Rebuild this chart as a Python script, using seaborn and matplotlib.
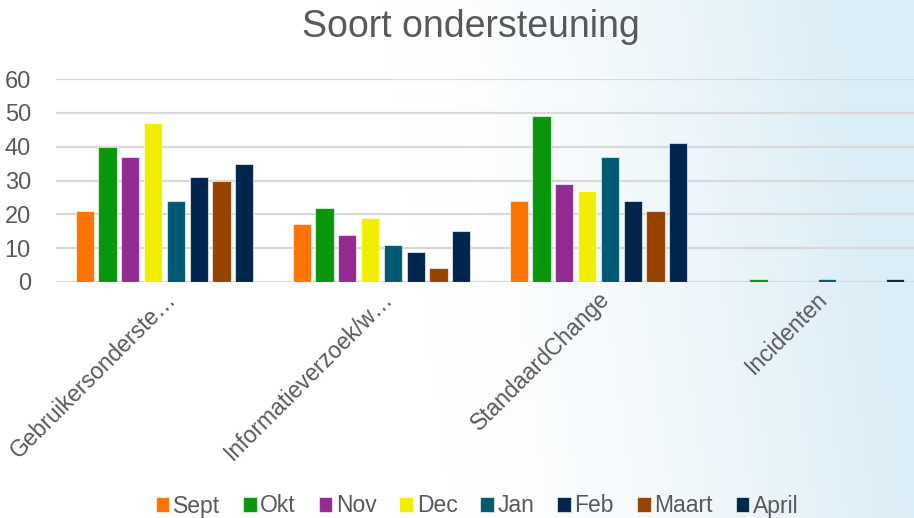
import numpy as np
import pandas as pd
import matplotlib
matplotlib.use("Agg")
import matplotlib.pyplot as plt
import seaborn as sns

# data
categories = ["Gebruikersonderste…", "Informatieverzoek/w…", "StandaardChange", "Incidenten"]
months = ["Sept", "Okt", "Nov", "Dec", "Jan", "Feb", "Maart", "April"]
sept = [21, 17, 24, 0]
okt = [40, 22, 49, 1]
nov = [37, 14, 29, 0]
dec = [47, 19, 27, 0]
jan = [24, 11, 37, 1]
feb = [31, 9, 24, 0]
maart = [30, 4, 21, 0]
april = [35, 15, 41, 1]
month_colors = ["#FF7300", "#0A960A", "#922B92", "#F2EE00",
                "#005A73", "#00264D", "#964400", "#00264D"]

series = [sept, okt, nov, dec, jan, feb, maart, april]
rows = []
for m, vals in zip(months, series):
    for c, v in zip(categories, vals):
        rows.append({"categorie": c, "maand": m, "aantal": v})
df = pd.DataFrame(rows)

sns.set_style("white")
plt.rcParams["font.family"] = ["Liberation Sans", "DejaVu Sans"]
text_col = "#595959"

fig = plt.figure(figsize=(9.14, 5.18), dpi=100)

# background gradient: white on the left, light blue towards the right
bg = fig.add_axes([0, 0, 1, 1], zorder=-10)
xx, yy = np.meshgrid(np.linspace(0, 1, 300), np.linspace(0, 1, 200))
t = np.clip((xx - 0.5 + 0.08 * (1 - yy)) / 0.5, 0, 1) ** 1.4
white = np.array([1.0, 1.0, 1.0])
blue = np.array([0.86, 0.93, 0.965])
img = white[None, None, :] * (1 - t[..., None]) + blue[None, None, :] * t[..., None]
bg.imshow(img, aspect="auto", origin="upper", extent=[0, 1, 0, 1])
bg.axis("off")

ax = fig.add_axes([56 / 914, 1 - 282 / 518, 868 / 914, 203 / 518])
ax.patch.set_alpha(0)
sns.barplot(data=df, x="categorie", y="aantal", hue="maand", hue_order=months,
            palette=month_colors, order=categories, width=0.84, gap=0.2,
            saturation=1, edgecolor=(1, 1, 1, 0.6), linewidth=0.8, ax=ax, zorder=3)

ax.set_ylim(0, 60)
ax.set_xlim(-0.5, 3.5)
ax.set_yticks(range(0, 61, 10))
ax.grid(axis="y", color="#D9D9D9", linewidth=1.6, zorder=0)
ax.set_axisbelow(True)
for s in ax.spines.values():
    s.set_visible(False)
ax.set_xlabel("")
ax.set_ylabel("")
ax.tick_params(axis="both", length=0, labelcolor=text_col)
ax.tick_params(axis="y", labelsize=17, pad=18)
ax.set_xticks(range(len(categories)))
ax.set_xticklabels(categories, rotation=45, ha="right", va="top",
                   rotation_mode="anchor")
ax.tick_params(axis="x", labelsize=16.5, pad=4)
for lbl in ax.get_xticklabels():
    lbl.set_x(lbl.get_position()[0])

fig.text(471 / 914, 1 - 27 / 518, "Soort ondersteuning", ha="center", va="center",
         fontsize=27, color=text_col)

handles, labels = ax.get_legend_handles_labels()
ax.legend_.remove()
fig.legend(handles, labels, loc="center", bbox_to_anchor=(477 / 914, 1 - 506 / 518),
           ncol=8, frameon=False, fontsize=16.5, labelcolor=text_col,
           handlelength=0.6, handleheight=0.6, handletextpad=0.15,
           columnspacing=1.0, borderaxespad=0)

fig.savefig("out.png", dpi=100)
